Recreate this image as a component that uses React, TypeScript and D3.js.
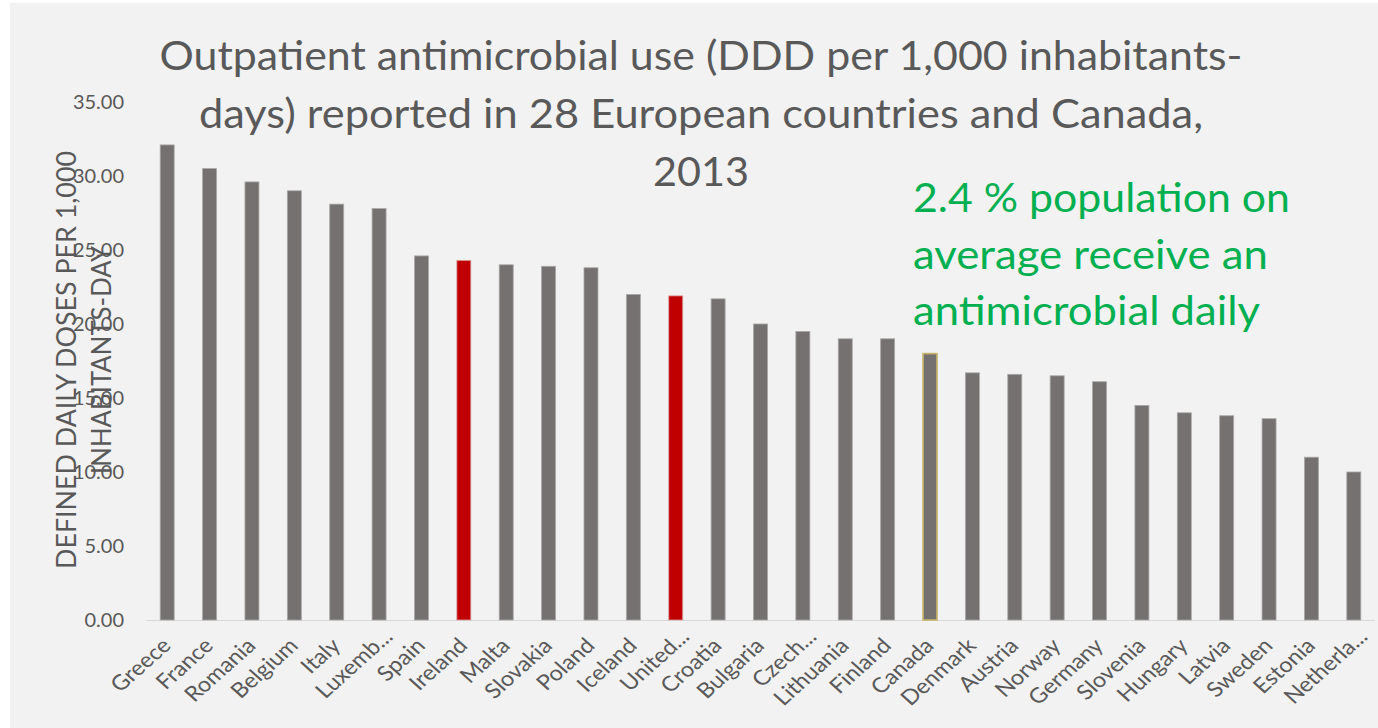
import React from "react";
import * as d3 from "d3";

const countries = [
  "Greece", "France", "Romania", "Belgium", "Italy", "Luxemb...", "Spain", "Ireland",
  "Malta", "Slovakia", "Poland", "Iceland", "United...", "Croatia", "Bulgaria", "Czech...",
  "Lithuania", "Finland", "Canada", "Denmark", "Austria", "Norway", "Germany", "Slovenia",
  "Hungary", "Latvia", "Sweden", "Estonia", "Netherla...",
];
const values = [
  32.1, 30.5, 29.6, 29.0, 28.1, 27.8, 24.6, 24.3,
  24.0, 23.9, 23.8, 22.0, 21.9, 21.7, 20.0, 19.5,
  19.0, 19.0, 18.0, 16.7, 16.6, 16.5, 16.1, 14.5,
  14.0, 13.8, 13.6, 11.0, 10.0,
];
const highlightRed = ["Ireland", "United..."];
const highlightOutline = ["Canada"];
const yTicks = [0, 5, 10, 15, 20, 25, 30, 35];
const titleLines = [
  "Outpatient antimicrobial use (DDD per 1,000 inhabitants-",
  "days) reported in 28 European countries and Canada,",
  "2013",
];
const noteLines = ["2.4 % population on", "average receive an", "antimicrobial daily"];
const yTitleLines = ["DEFINED DAILY DOSES PER 1,000", "INHABITANTS-DAY"];

const W = 1378;
const H = 728;
const FONT = "Lato, 'Open Sans', sans-serif";

export default function App() {
  const x = d3.scaleBand<string>().domain(countries).range([146, 1375]).paddingInner(0.67).paddingOuter(0.335);
  const y = d3.scaleLinear().domain([0, 35]).range([620, 102]);
  const bw = x.bandwidth();
  const titleLen = [1083, 1004, 96];
  const noteLen = [377, 355, 347];

  return (
    <svg width={W} height={H} style={{ position: "absolute", left: 0, top: 0 }} fontFamily={FONT}>
      <rect x={0} y={0} width={W} height={H} fill="#ffffff" />
      <rect x={10} y={3} width={W - 10} height={H - 3} fill="#f2f2f2" />

      {/* y tick labels */}
      {yTicks.map((t) => (
        <text key={t} x={124} y={y(t)} dy="0.35em" textAnchor="end" fontSize={20} fill="#595959">
          {d3.format(".2f")(t)}
        </text>
      ))}

      {/* y title */}
      {yTitleLines.map((l, i) => (
        <text
          key={l}
          transform={`translate(${i === 0 ? 76 : 111},360) scale(1.12,1) rotate(-90)`}
          textAnchor="middle"
          fontSize={24}
          fill="#595959"
          textLength={i === 0 ? 418 : 228}
          lengthAdjust="spacingAndGlyphs"
        >
          {l}
        </text>
      ))}

      {/* baseline */}
      <line x1={146} x2={1375} y1={y(0) + 0.5} y2={y(0) + 0.5} stroke="#d9d9d9" strokeWidth={1} />

      {/* bars */}
      {countries.map((c, i) => {
        const red = highlightRed.includes(c);
        const outl = highlightOutline.includes(c);
        return (
          <rect
            key={c}
            x={x(c)!}
            y={y(values[i])}
            width={bw}
            height={y(0) - y(values[i])}
            fill={red ? "#c00000" : "#767171"}
            stroke={outl ? "#c9b56a" : red ? "#d9a0a0" : "#a9a7a7"}
            strokeWidth={outl ? 1.6 : 0.8}
          />
        );
      })}

      {/* x labels */}
      {countries.map((c) => {
        const trunc = c.endsWith("...");
        const cx = x(c)! + bw / 2 + (trunc ? 15 : 5);
        const cy = trunc ? 638 : 647;
        return (
          <text
            key={c}
            transform={`translate(${cx},${cy}) scale(1.12,1) rotate(-45)`}
            textAnchor="end"
            fontSize={21}
            fill="#595959"
          >
            {c}
          </text>
        );
      })}

      {/* title */}
      {titleLines.map((l, i) => (
        <text
          key={l}
          x={701}
          y={70 + i * 58}
          textAnchor="middle"
          fontSize={40}
          fill="#595959"
          textLength={titleLen[i]}
          lengthAdjust="spacingAndGlyphs"
        >
          {l}
        </text>
      ))}

      {/* note */}
      {noteLines.map((l, i) => (
        <text
          key={l}
          x={913}
          y={212 + i * 56.5}
          fontSize={40}
          fill="#00b050"
          textLength={noteLen[i]}
          lengthAdjust="spacingAndGlyphs"
        >
          {l}
        </text>
      ))}
    </svg>
  );
}
